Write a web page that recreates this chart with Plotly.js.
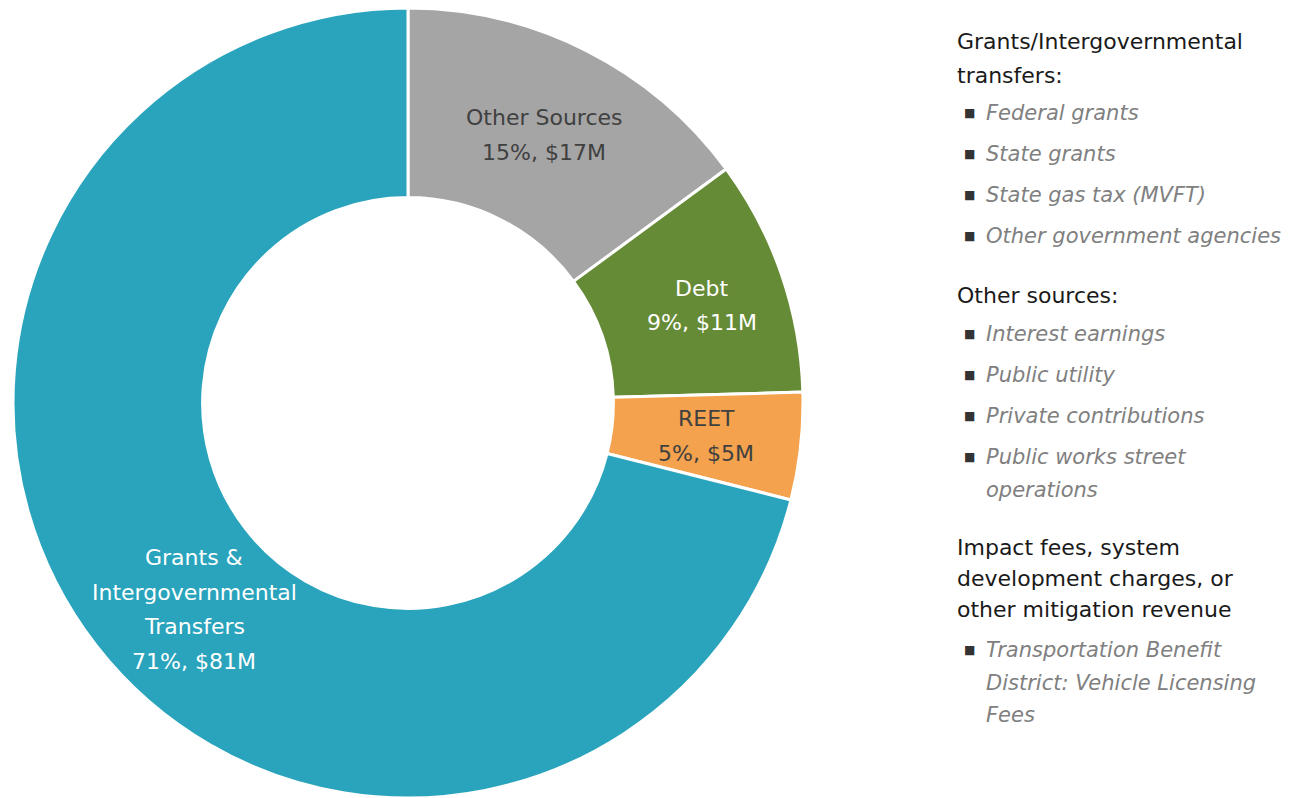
<!DOCTYPE html>
<html>
<head>
<meta charset="utf-8">
<script src="https://cdn.plot.ly/plotly-3.0.1.min.js"></script>
<style>html,body{margin:0;padding:0;background:#fff;}#chart{width:1312px;height:798px;}</style>
</head>
<body>
<div id="chart"></div>
<script>
// ---- data ----
const categories = ["Other Sources", "Debt", "REET", "Grants &<br>Intergovernmental<br>Transfers"];
const dollarValues = [17, 11, 5, 81];          // $M
const percentLabels = [15, 9, 5, 71];          // % as printed
const sliceColors = ["#A5A5A5", "#668B37", "#F4A24E", "#29A4BC"];
const labelColors = ["#404040", "#FFFFFF", "#404040", "#FFFFFF"];

const group1Header = ["Grants/Intergovernmental", "transfers:"];
const group1Items = [["Federal grants"], ["State grants"], ["State gas tax (MVFT)"], ["Other government agencies"]];
const group2Header = ["Other sources:"];
const group2Items = [["Interest earnings"], ["Public utility"], ["Private contributions"], ["Public works street", "operations"]];
const group3Header = ["Impact fees, system", "development charges, or", "other mitigation revenue"];
const group3Items = [["Transportation Benefit", "District: Vehicle Licensing", "Fees"]];

// ---- layout ----
const W = 1312, H = 798;
const FONT = "DejaVu Sans, sans-serif";
const CX = 408, CY = 403, R_OUT = 395, HOLE = 0.52;
// label nudges (pixels), styling only
const labelNudge = [[0, 0], [10, 0], [0, 0], [23, 22]];

const trace = {
  type: "pie",
  values: dollarValues,
  labels: categories,
  textinfo: "none",
  sort: false,
  direction: "clockwise",
  rotation: 0,
  hole: HOLE,
  marker: { colors: sliceColors, line: { color: "#FFFFFF", width: 3 } },
  hoverinfo: "none",
  showlegend: false,
  domain: { x: [(CX - R_OUT) / W, (CX + R_OUT) / W], y: [(H - CY - R_OUT) / H, (H - CY + R_OUT) / H] }
};

const annotations = [];
function addLine(txt, px, py, opts) {
  annotations.push(Object.assign({
    xref: "paper", yref: "paper",
    x: px / W, y: 1 - py / H,
    xanchor: "left", yanchor: "middle",
    text: txt, showarrow: false, align: "left"
  }, opts));
}

// slice labels at the middle of each ring segment
const total = dollarValues.reduce((a, b) => a + b, 0);
const rLabel = R_OUT * (1 + HOLE) / 2;
let cum = 0;
dollarValues.forEach((v, i) => {
  const mid = (cum + v / 2) / total * 2 * Math.PI;
  cum += v;
  const lx = CX + rLabel * Math.sin(mid) + labelNudge[i][0];
  const ly = CY - rLabel * Math.cos(mid) + labelNudge[i][1];
  const lines = categories[i].split("<br>").concat([percentLabels[i] + "%, $" + v + "M"]);
  const step = 34.5;
  lines.forEach((l, j) => {
    addLine(l, lx, ly + (j - (lines.length - 1) / 2) * step, {
      xanchor: "center", align: "center",
      font: { family: FONT, size: 22, color: labelColors[i] }
    });
  });
});

const headFont = { family: FONT, size: 22, color: "#1A1A1A" };
const itemFont = { family: FONT, size: 21, color: "#808080" };
const bulletFont = { family: FONT, size: 12, color: "#333333" };

function addHeader(lines, y0, step) {
  lines.forEach((l, i) => addLine(l, 955, y0 + i * step, { font: headFont }));
}
function addItems(items, y0, step, wrapStep) {
  let y = y0;
  items.forEach(lines => {
    addLine("■", 962, y, { font: bulletFont });
    lines.forEach((l, j) => addLine("<i>" + l + "</i>", 984, y + j * wrapStep, { font: itemFont }));
    y += (lines.length - 1) * wrapStep + step;
  });
}
addHeader(group1Header, 42, 33);
addItems(group1Items, 113, 41, 33);
addHeader(group2Header, 295, 33);
addItems(group2Items, 334, 41, 33);
addHeader(group3Header, 547, 31);
addItems(group3Items, 650, 41, 32.5);

const layout = {
  width: W, height: H,
  margin: { l: 0, r: 0, t: 0, b: 0 },
  paper_bgcolor: "#FFFFFF",
  annotations: annotations,
  showlegend: false
};

Plotly.newPlot("chart", [trace], layout, { displayModeBar: false, staticPlot: true });
</script>
</body>
</html>
